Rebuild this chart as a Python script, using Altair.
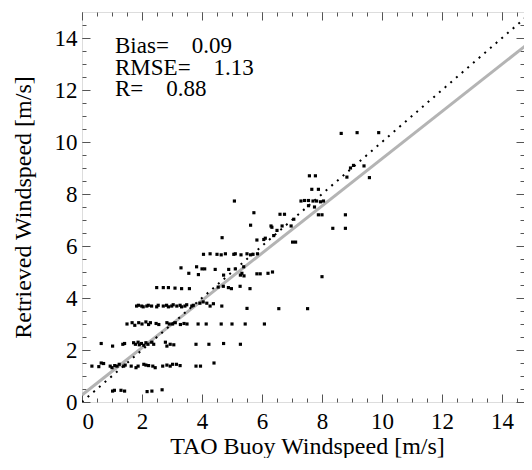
import altair as alt
import pandas as pd

# ---- scatter data (TAO buoy vs retrieved windspeed, m/s) ----
buoy_ws = [
    # ~0.4
    1.02, 1.08, 1.30, 1.42, 2.17, 2.33, 2.67,
    # ~1.4
    0.33, 0.56, 0.64, 0.72, 0.94, 1.00, 1.09, 1.17, 1.24, 1.39, 1.44, 1.64, 1.80, 1.87,
    2.06, 2.13, 2.22, 2.36, 2.44, 2.69, 2.83, 2.94, 3.02, 3.15, 3.27, 3.80, 3.95, 4.40,
    # ~2.2
    0.64, 1.02, 1.36, 1.42, 1.72, 1.78, 1.87, 1.91, 1.98, 2.06, 2.13, 2.20, 2.33, 2.39,
    2.78, 2.83, 2.94, 3.06, 3.80, 4.23, 4.72, 5.28,
    # ~3.0
    1.50, 1.67, 1.76, 1.89, 2.00, 2.13, 2.22, 2.28, 2.47, 2.56, 2.83, 2.91, 3.02, 3.11,
    3.28, 3.40, 3.50, 3.87, 4.14, 4.64, 5.00, 5.44, 6.08,
    # ~3.7
    1.82, 1.88, 1.99, 2.04, 2.16, 2.21, 2.32, 2.49, 2.54, 2.71, 2.82, 2.88, 2.99, 3.04,
    3.16, 3.27, 3.32, 3.43, 3.49, 3.66, 3.71, 3.93, 4.04, 4.16, 4.27, 4.38, 4.66, 5.50,
    6.56, 7.52,
    # ~4.4
    2.49, 2.71, 2.88, 3.10, 3.32, 3.58, 4.54, 4.71, 4.88, 4.98, 5.27, 5.60,
    # ~5.0
    3.30, 3.82, 4.00, 4.09, 4.44, 4.89, 5.11, 5.39, 3.56, 3.88, 4.72, 5.28, 5.33, 5.40,
    5.83, 5.94, 6.20, 6.35, 8.00,
    # ~5.7
    4.05, 4.27, 4.50, 4.64, 4.78, 5.06, 5.11, 5.30, 5.50, 5.62, 5.70, 5.85,
    # ~6.3
    4.67, 5.83, 6.06, 6.11, 6.39, 7.02, 7.12,
    # ~6.7
    5.62, 6.30, 6.33, 6.50, 6.67, 6.97, 8.36, 8.78,
    # ~7.2
    5.73, 6.60, 6.75, 7.06, 7.88, 8.00, 8.78,
    # ~7.7
    5.08, 7.30, 7.42, 7.55, 7.70, 7.82, 7.95, 8.05, 7.55, 7.75,
    # upper
    7.66, 7.88, 7.58, 7.78, 8.83, 9.58, 8.95, 9.05, 9.40, 8.64, 9.17, 9.89,
]
retrieved_ws = [
    # ~0.4
    0.42, 0.45, 0.45, 0.42, 0.40, 0.42, 0.47,
    # ~1.4
    1.38, 1.36, 1.50, 1.48, 1.38, 1.32, 1.40, 1.38, 1.45, 1.38, 1.42, 1.38, 1.32, 1.38,
    1.45, 1.42, 1.40, 1.38, 1.32, 1.38, 1.42, 1.38, 1.45, 1.45, 1.40, 1.38, 1.38, 1.50,
    # ~2.2
    2.25, 2.15, 2.22, 2.25, 2.28, 2.22, 2.30, 2.20, 2.25, 2.18, 2.28, 2.22, 2.30, 2.22,
    2.30, 2.15, 2.22, 2.20, 2.22, 2.22, 2.25, 2.22,
    # ~3.0
    3.00, 3.05, 2.95, 3.05, 3.00, 3.08, 2.98, 3.05, 3.02, 2.98, 3.05, 3.00, 3.00, 3.05,
    2.98, 3.02, 3.00, 3.00, 3.00, 3.00, 3.00, 3.00, 3.00,
    # ~3.7
    3.69, 3.72, 3.69, 3.66, 3.69, 3.72, 3.69, 3.66, 3.72, 3.69, 3.72, 3.66, 3.69, 3.74,
    3.69, 3.72, 3.66, 3.69, 3.74, 3.69, 3.72, 3.80, 3.85, 3.80, 3.69, 3.78, 3.69, 3.60,
    3.59, 3.59,
    # ~4.4
    4.40, 4.40, 4.40, 4.38, 4.36, 4.36, 4.42, 4.45, 4.40, 4.36, 4.45, 4.36,
    # ~5.0
    5.16, 5.20, 5.12, 5.12, 5.10, 5.10, 5.12, 5.20, 4.95, 4.90, 4.88, 4.88, 4.95, 4.85,
    4.93, 4.93, 4.95, 5.00, 4.82,
    # ~5.7
    5.68, 5.70, 5.68, 5.66, 5.70, 5.68, 5.70, 5.66, 5.70, 5.66, 5.68, 5.70,
    # ~6.3
    6.32, 6.23, 6.25, 6.30, 6.40, 6.15, 6.15,
    # ~6.7
    6.80, 6.77, 6.72, 6.60, 6.77, 6.77, 6.68, 6.68,
    # ~7.2
    7.28, 7.22, 7.22, 7.03, 7.20, 7.20, 7.20,
    # ~7.7
    7.73, 7.73, 7.75, 7.75, 7.73, 7.73, 7.70, 7.73, 7.55, 7.50,
    # upper
    8.18, 8.18, 8.70, 8.70, 8.65, 8.63, 9.00, 9.10, 9.08, 10.33, 10.36, 10.36,
]

# reference lines
one_to_one_x = [0, 15]
one_to_one_y = [0, 15]
fit_x = [0, 15]
fit_y = [0.27, 13.9]

# statistics box
GAP = "\u00a0" * 4
stat_labels = ["Bias=" + GAP + "0.09", "RMSE=" + GAP + "1.13", "R=" + GAP + "0.88"]
stat_x = [1.1, 1.1, 1.1]
stat_y = [13.69, 12.85, 12.04]

# axis ticks
major_ticks = [0, 2, 4, 6, 8, 10, 12, 14]
minor_ticks = [i * 0.5 for i in range(30)]

FONT = "Liberation Serif"
TICK_COLOR = "#555555"
W, H = 442, 390
X_MAX = W / 30.0  # keep 30 px per m/s; the page is narrower than the original frame

pts = pd.DataFrame({"x": buoy_ws, "y": retrieved_ws})
ref = pd.DataFrame({"x": one_to_one_x, "y": one_to_one_y})
fit = pd.DataFrame({"x": fit_x, "y": fit_y})
stats = pd.DataFrame({"x": stat_x, "y": stat_y, "t": stat_labels})

xscale = alt.Scale(domain=[0, X_MAX], nice=False, zero=False)
yscale = alt.Scale(domain=[0, 15], nice=False, zero=False)


def tick_axis(orient, offset, values, size):
    return alt.Axis(orient=orient, offset=offset, values=values, tickSize=size,
                    ticks=True, labels=False, domain=False, grid=False, title=None,
                    tickColor=TICK_COLOR, tickWidth=1)


points = alt.Chart(pts).mark_square(size=10, color="black", opacity=1).encode(
    x=alt.X("x:Q", scale=xscale, axis=alt.Axis(
        orient="bottom", values=major_ticks, ticks=False, domain=False, grid=False,
        labelFont=FONT, labelFontSize=23, labelColor="black", labelPadding=8,
        title="TAO Buoy Windspeed [m/s]", titleFont=FONT, titleFontSize=24,
        titleFontWeight="normal", titleColor="black",
        titleBaseline="alphabetic", titleY=51, titleX=225)),
    y=alt.Y("y:Q", scale=yscale, axis=alt.Axis(
        orient="left", values=major_ticks, ticks=False, domain=False, grid=False,
        labelFont=FONT, labelFontSize=23, labelColor="black", labelPadding=5,
        title="Retrieved Windspeed [m/s]", titleFont=FONT, titleFontSize=24,
        titleFontWeight="normal", titleColor="black",
        titleBaseline="alphabetic", titleX=-52)),
)

fit_line = alt.Chart(fit).mark_line(color="#b4b4b4", strokeWidth=3, clip=True).encode(
    x=alt.X("x:Q", scale=xscale, axis=tick_axis("top", -H, minor_ticks, 4)),
    y=alt.Y("y:Q", scale=yscale, axis=tick_axis("right", -W, minor_ticks, 4)),
)

ref_line = alt.Chart(ref).mark_line(color="black", strokeWidth=2, strokeDash=[2, 5.5],
                                    clip=True).encode(
    x=alt.X("x:Q", scale=xscale, axis=tick_axis("top", -H, major_ticks, 8)),
    y=alt.Y("y:Q", scale=yscale, axis=tick_axis("right", -W, major_ticks, 8)),
)

texts = alt.Chart(stats).mark_text(align="left", baseline="middle", font=FONT,
                                   fontSize=23, color="black").encode(
    x=alt.X("x:Q", scale=xscale, axis=tick_axis("bottom", -H, major_ticks, 8)),
    y=alt.Y("y:Q", scale=yscale, axis=tick_axis("left", -W, major_ticks, 8)),
    text="t:N",
)

minor_top = alt.Chart(ref).mark_point(opacity=0, clip=True).encode(
    x=alt.X("x:Q", scale=xscale, axis=tick_axis("bottom", -H, minor_ticks, 4)),
    y=alt.Y("y:Q", scale=yscale, axis=tick_axis("left", -W, minor_ticks, 4)),
)

chart = alt.layer(fit_line, ref_line, points, texts, minor_top).resolve_axis(
    x="independent", y="independent"
).properties(
    width=W, height=H,
    autosize=alt.AutoSizeParams(type="none"),
    padding={"left": 74, "top": 4, "right": 0, "bottom": 56},
).configure_view(stroke="#333333", strokeWidth=1).configure(background="white")

chart.save("out.html", embed_options={"renderer": "svg", "actions": False})
